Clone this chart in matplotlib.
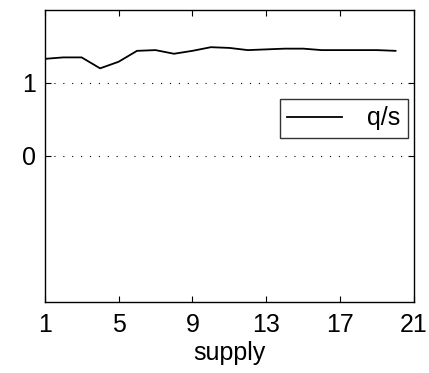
import matplotlib
matplotlib.use("Agg")
import matplotlib.pyplot as plt

supply = list(range(1, 21))
qs = [1.33, 1.35, 1.35, 1.20, 1.29, 1.44, 1.45, 1.40, 1.44, 1.49,
      1.48, 1.45, 1.46, 1.47, 1.47, 1.45, 1.45, 1.45, 1.45, 1.44]
xticks = [1, 5, 9, 13, 17, 21]
yticks = [0, 1]

plt.rcParams["font.family"] = ["Liberation Sans", "DejaVu Sans"]

fig = plt.figure(figsize=(4.29, 3.73), dpi=100)
ax = fig.add_axes([44.7 / 429, 1 - 301.7 / 373, 369.3 / 429, 291.7 / 373])
ax.plot(supply, qs, color="black", lw=1.3, label="q/s")
ax.set_xlim(1, 21)
ax.set_ylim(-2, 2)
ax.set_xticks(xticks)
ax.set_yticks(yticks)
ax.yaxis.grid(True, linestyle=(0, (1, 7)), color="black", lw=0.8)
ax.tick_params(direction="in", top=True, right=True, labelsize=18, length=4, width=0.8)
ax.tick_params(axis="x", pad=8)
ax.tick_params(axis="y", pad=6)
for s in ax.spines.values():
    s.set_linewidth(1.0)
ax.set_xlabel("supply", fontsize=18, labelpad=3)

# legend box sits just right of centre, like the MATLAB original
leg = ax.legend(loc="upper right", bbox_to_anchor=(0.984, 0.695), fontsize=18,
                frameon=True, fancybox=False, edgecolor="black",
                handlelength=2.2, handletextpad=1.0,
                borderaxespad=0, borderpad=0.3)
leg.get_frame().set_linewidth(1.0)
fig.savefig("out.png", dpi=100)
